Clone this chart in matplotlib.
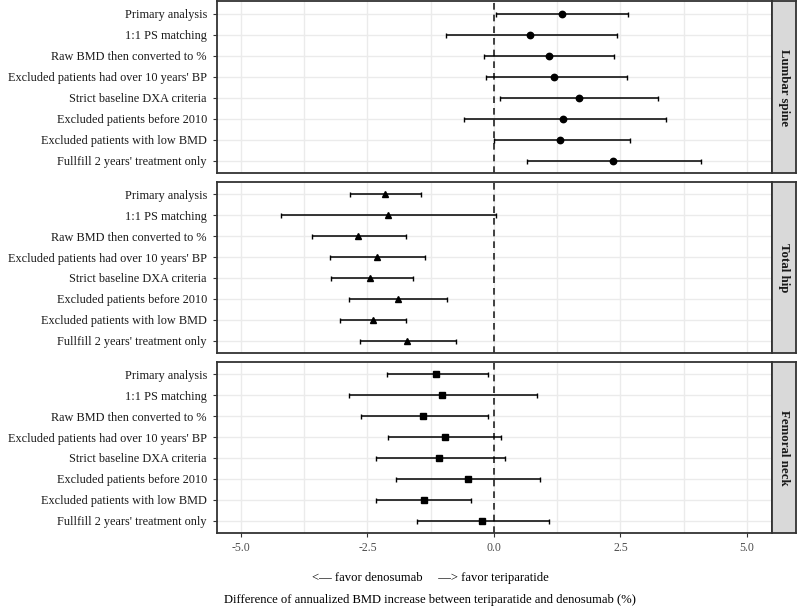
import numpy as np
import matplotlib
matplotlib.use("Agg")
from matplotlib import pyplot as plt

plt.rcParams['font.family'] = ['Liberation Serif', 'DejaVu Serif']

analyses = ["Primary analysis", "1:1 PS matching", "Raw BMD then converted to %",
            "Excluded patients had over 10 years' BP", "Strict baseline DXA criteria",
            "Excluded patients before 2010", "Excluded patients with low BMD",
            "Fullfill 2 years' treatment only"]
sites = ["Lumbar spine", "Total hip", "Femoral neck"]

# point estimate, lower and upper CI
lumbar_est = [1.34, 0.72, 1.09, 1.19, 1.68, 1.37, 1.31, 2.36]
lumbar_lo = [0.03, -0.95, -0.20, -0.16, 0.11, -0.60, 0.01, 0.65]
lumbar_hi = [2.65, 2.43, 2.37, 2.62, 3.24, 3.39, 2.68, 4.09]

hip_est = [-2.16, -2.10, -2.68, -2.32, -2.45, -1.89, -2.39, -1.72]
hip_lo = [-2.85, -4.20, -3.59, -3.24, -3.22, -2.86, -3.05, -2.64]
hip_hi = [-1.44, 0.03, -1.74, -1.36, -1.60, -0.92, -1.74, -0.76]

neck_est = [-1.14, -1.03, -1.40, -0.97, -1.09, -0.52, -1.39, -0.24]
neck_lo = [-2.12, -2.87, -2.62, -2.10, -2.34, -1.94, -2.34, -1.53]
neck_hi = [-0.11, 0.85, -0.11, 0.14, 0.21, 0.91, -0.45, 1.08]

data = [(lumbar_est, lumbar_lo, lumbar_hi, 'o', 4.6),
        (hip_est, hip_lo, hip_hi, '^', 5.0),
        (neck_est, neck_lo, neck_hi, 's', 4.6)]

W, H = 799, 609
fig = plt.figure(figsize=(W / 100, H / 100), dpi=100)

left, right = 216.7, 772.3
strip_r = 796.0
panels = [(1.0, 173.3), (181.7, 353.3), (361.7, 533.3)]
border = '#333333'
grid_c = '#EBEBEB'

n = len(analyses)
ypos = np.arange(n, 0, -1)

for k, (site, (est, lo, hi, mk, ms)) in enumerate(zip(sites, data)):
    top, bot = panels[k]
    ax = fig.add_axes([left / W, 1 - bot / H, (right - left) / W, (bot - top) / H])
    est = np.array(est)
    lo = np.array(lo)
    hi = np.array(hi)
    ax.errorbar(est, ypos, xerr=[est - lo, hi - est], fmt='none', ecolor='black',
                elinewidth=1.1, capsize=1.8, capthick=1.0, zorder=3)
    ax.plot(est, ypos, linestyle='none', marker=mk, color='black', markersize=ms, zorder=4)
    ax.axvline(0, color='#222222', linestyle=(0, (4, 3)), linewidth=1.2, zorder=2)

    ax.set_xlim(-5.48, 5.5)
    ax.set_ylim(0.4, n + 0.6)
    ax.set_xticks([-5, -2.5, 0, 2.5, 5])
    ax.set_xticks([-3.75, -1.25, 1.25, 3.75], minor=True)
    ax.set_yticks(ypos)
    ax.set_yticklabels(analyses)
    ax.grid(True, which='both', axis='x', color=grid_c, linewidth=1.0, zorder=0)
    ax.grid(True, which='major', axis='y', color=grid_c, linewidth=1.0, zorder=0)
    ax.set_axisbelow(True)
    ax.tick_params(axis='y', length=3, width=0.8, color='#333333', labelsize=8.8,
                   labelcolor='#1a1a1a', pad=4)
    ax.tick_params(axis='x', which='minor', length=0)
    if k < 2:
        ax.tick_params(axis='x', which='major', length=0, labelbottom=False)
    else:
        ax.set_xticklabels(['-5.0', '-2.5', '0.0', '2.5', '5.0'])
        ax.tick_params(axis='x', which='major', length=3, width=0.8, color='#333333',
                       labelsize=8.5, labelcolor='#4d4d4d', pad=3)
    for sp in ax.spines.values():
        sp.set_color(border)
        sp.set_linewidth(1.3)

    sax = fig.add_axes([right / W, 1 - bot / H, (strip_r - right) / W, (bot - top) / H])
    sax.set_facecolor('#D9D9D9')
    sax.set_xticks([])
    sax.set_yticks([])
    for sp in sax.spines.values():
        sp.set_color(border)
        sp.set_linewidth(1.3)
    sax.text(0.5, 0.5, site, rotation=-90, ha='center', va='center',
             fontsize=9.3, fontweight='bold', color='#1a1a1a', transform=sax.transAxes)

cx = 430 / W
fig.text(cx, 1 - 578 / H, "<\u2014 favor denosumab     \u2014> favor teriparatide",
         ha='center', va='center', fontsize=9.1, color='black')
fig.text(cx, 1 - 600 / H,
         "Difference of annualized BMD increase between teriparatide and denosumab (%)",
         ha='center', va='center', fontsize=9.1, color='black')

fig.savefig('out.png', dpi=100)
